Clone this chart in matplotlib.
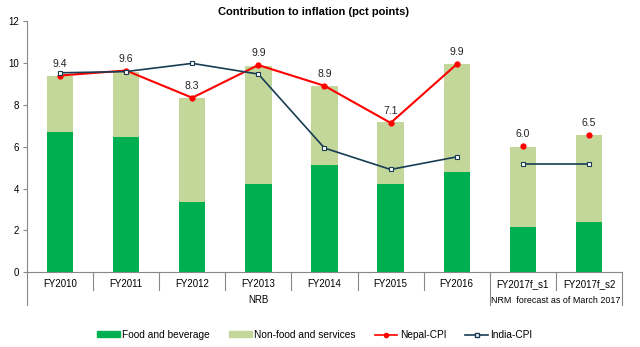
import matplotlib
matplotlib.use('Agg')
import matplotlib.pyplot as plt
from matplotlib.lines import Line2D
from matplotlib.patches import Patch
import numpy as np

plt.rcParams['font.family'] = ['Liberation Sans', 'DejaVu Sans']

# dados
anos = ['FY2010', 'FY2011', 'FY2012', 'FY2013', 'FY2014', 'FY2015', 'FY2016', 'FY2017f_s1', 'FY2017f_s2']
grupos = ['NRB', 'NRM  forecast as of March 2017']
tam_grupos = [7, 2]
alimentos = [6.69, 6.47, 3.35, 4.2, 5.12, 4.23, 4.8, 2.16, 2.41]
total = [9.36, 9.56, 8.33, 9.85, 8.88, 7.15, 9.93, 5.99, 6.55]
nepal_cpi = [9.39, 9.63, 8.33, 9.89, 8.9, 7.13, 9.93, 6.04, 6.54]
india_cpi = [9.52, 9.58, 9.97, 9.46, 5.93, 4.91, 5.51, 5.16, 5.16]

nao_alimentos = [t - a for t, a in zip(total, alimentos)]
x = np.arange(len(anos))

fig = plt.figure(figsize=(6.4, 3.47), dpi=100)
ax = fig.add_axes([0.042, 0.215, 0.930, 0.725])

verde = '#00b050'
verde_claro = '#c4d79b'
azul = '#173d55'

ax.bar(x, alimentos, width=0.4, color=verde)
ax.bar(x, nao_alimentos, width=0.4, bottom=alimentos, color=verde_claro)

# linha do Nepal: histórico ligado, previsões só pontos
n = tam_grupos[0]
ax.plot(x[:n], nepal_cpi[:n], color='red', lw=1.5, marker='o', ms=3.5)
ax.plot(x[n:], nepal_cpi[n:], color='red', lw=0, marker='o', ms=3.5)
ax.plot(x[:n], india_cpi[:n], color=azul, lw=1.2, marker='s', ms=3,
        mfc='white', mec=azul, mew=0.8)
ax.plot(x[n:], india_cpi[n:], color=azul, lw=1.2, marker='s', ms=3,
        mfc='white', mec=azul, mew=0.8)

for xi, v in zip(x, nepal_cpi):
    ax.annotate(f'{v:.1f}', (xi, v), xytext=(0, 5), textcoords='offset points',
                ha='center', va='bottom', fontsize=7.5, color='#222222')

ax.set_xlim(-0.5, len(anos) - 0.5)
ax.set_ylim(0, 12)
ax.set_yticks(range(0, 13, 2))
ax.tick_params(axis='y', labelsize=7, length=3, color='#888888', pad=2.5)
ax.set_xticks([])
for s in ['top', 'right']:
    ax.spines[s].set_visible(False)
for s in ['left', 'bottom']:
    ax.spines[s].set_color('#888888')
    ax.spines[s].set_linewidth(0.8)

# eixo de categorias em dois níveis
trans = ax.get_xaxis_transform()
for xi, nome in zip(x, anos):
    ax.text(xi, -0.045, nome, transform=trans, ha='center', va='center', fontsize=7)
fronteiras = np.cumsum([0] + tam_grupos) - 0.5
for b in np.arange(-0.5, len(anos)):
    comp = 0.131 if b in fronteiras else 0.068
    ax.plot([b, b], [0, -comp], transform=trans, color='#888888', lw=0.8, clip_on=False)
for i, g in enumerate(grupos):
    meio = (fronteiras[i] + fronteiras[i + 1]) / 2
    ax.text(meio, -0.11, g, transform=trans, ha='center', va='center',
            fontsize=7 if tam_grupos[i] > 2 else 6.4)

fig.text(0.49, 0.965, 'Contribution to inflation (pct points)', ha='center', va='center',
         fontsize=8, fontweight='bold')

handles = [Patch(color=verde), Patch(color=verde_claro),
           Line2D([], [], color='red', lw=1.2, marker='o', ms=3),
           Line2D([], [], color=azul, lw=1.2, marker='s', ms=3, mfc='white', mec=azul)]
rotulos = ['Food and beverage', 'Non-food and services', 'Nepal-CPI', 'India-CPI']
fig.legend(handles, rotulos, loc='center', bbox_to_anchor=(0.492, 0.035), ncol=4,
           frameon=False, fontsize=7.3, handlelength=2.2, handleheight=0.5,
           handletextpad=0.25, columnspacing=1.9)

fig.savefig('out.png', dpi=100)
